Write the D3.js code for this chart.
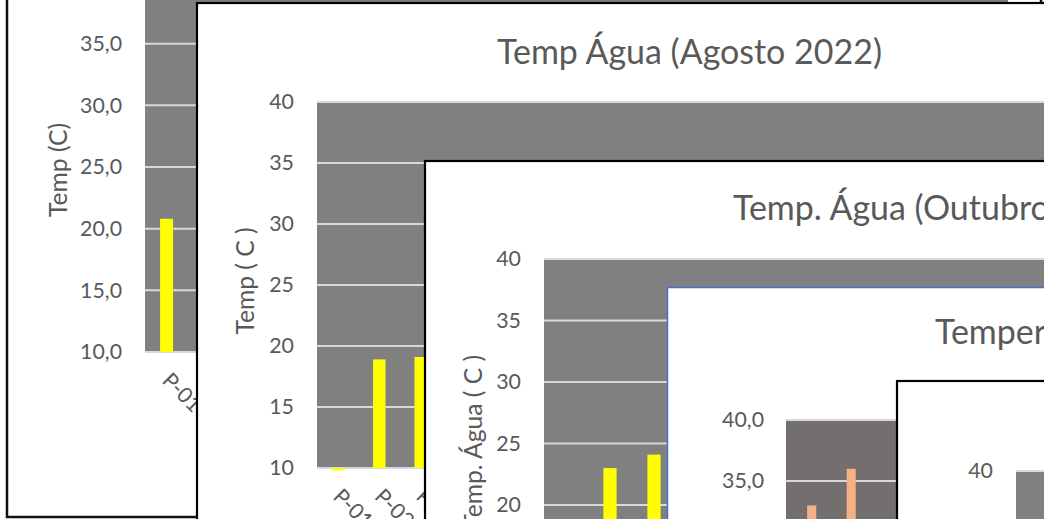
<!DOCTYPE html>
<html>
<head>
<meta charset="utf-8">
<script src="https://cdn.jsdelivr.net/npm/d3@7"></script>
<style>
  html, body { margin: 0; padding: 0; background: #fff; }
  svg { display: block; }
  text { font-family: Lato, "Open Sans", sans-serif; fill: #595959; }
</style>
</head>
<body>
<svg id="chart" width="1044" height="519"></svg>
<script>
// ---- Data -----------------------------------------------------------------
const stations = d3.range(1, 21).map(i => "P-" + String(i).padStart(2, "0"));

// Temperatura da água por campanha (°C)
const campanhaAStations = ["P-01"];
const campanhaATemp = [20.8];

const agostoStations = ["P-01", "P-02", "P-03"];
const agostoTemp = [9.8, 18.9, 19.1];

const outubroStations = ["P-02", "P-03"];
const outubroTemp = [23.0, 24.1];

const campanhaDStations = ["P-01", "P-02"];
const campanhaDTemp = [33.0, 36.0];

const campanhaEStations = [];
const campanhaETemp = [];

const tickValues = [10, 15, 20, 25, 30, 35, 40];

// ---- Formatting ------------------------------------------------------------
const ptBR = d3.formatLocale({ decimal: ",", thousands: ".", grouping: [3], currency: ["R$", ""] });
const fmt1 = ptBR.format(".1f");
const fmt0 = ptBR.format("d");

const svg = d3.select("#chart");

// Size factors so the sans-serif face covers the same width as the office font
function measure(str, px) {
  const t = svg.append("text").style("font-size", px + "px").text(str);
  const w = t.node().getComputedTextLength();
  t.remove();
  return w;
}
const kText = 385 / measure("Temp Água (Agosto 2022)", 37);
const kAxis = 94 / measure("Temp (C)", 26.7);
const kNum = 42 / measure("35,0", 24);
const fs = px => (px * kText) + "px";
const fsAxis = px => (px * kAxis) + "px";
const fsNum = px => (px * kNum) + "px";

// ---- Panels (drawn back to front) -----------------------------------------
const panels = [
  {
    frame: { x: 7, y: -100, w: 1034, h: 617, stroke: "#111", sw: 2.5 },
    plot: { x0: 145, x1: 1008, yTop: -18, yBottom: 352, fill: "#808080" },
    outer: 0, barFrac: 0.3, color: "#FFFF00",
    names: campanhaAStations, values: campanhaATemp,
    tickFmt: fmt1, tickX: 122,
    yTitle: "Temp (C)", yTitleX: 57, yTitleY: 170,
    title: null
  },
  {
    frame: { x: 197, y: 3, w: 1000, h: 700, stroke: "#000", sw: 2.2 },
    plot: { x0: 317, x1: 1147, yTop: 102, yBottom: 468, fill: "#808080" },
    outer: 0, barFrac: 0.3, color: "#FFFF00",
    names: agostoStations, values: agostoTemp,
    tickFmt: fmt0, tickX: 294,
    yTitle: "Temp ( C )", yTitleX: 244, yTitleY: 281,
    title: "Temp Água (Agosto 2022)", titleX: 689.5, titleY: 50, titleAnchor: "middle"
  },
  {
    frame: { x: 425, y: 161, w: 1000, h: 700, stroke: "#000", sw: 2.2 },
    plot: { x0: 544, x1: 1424, yTop: 259, yBottom: 628, fill: "#808080" },
    outer: 0, barFrac: 0.3, color: "#FFFF00",
    names: outubroStations, values: outubroTemp,
    tickFmt: fmt0, tickX: 521,
    yTitle: "Temp. Água ( C )", yTitleX: 472, yTitleY: 355, yTitleAnchor: "end",
    title: "Temp. Água (Outubro 2022)", titleX: 733, titleY: 206, titleAnchor: "start"
  },
  {
    frame: { x: 667.5, y: 287.5, w: 1000, h: 700, stroke: "#4472C4", sw: 1.5 },
    plot: { x0: 786, x1: 1588, yTop: 420, yBottom: 786, fill: "#736F6E" },
    outer: 0.15, barFrac: 0.23, color: "#F4B183",
    names: campanhaDStations, values: campanhaDTemp,
    tickFmt: fmt1, tickX: 764,
    yTitle: null,
    title: "Temperatura da Água", titleX: 935, titleY: 330, titleAnchor: "start"
  },
  {
    frame: { x: 897, y: 381, w: 1000, h: 700, stroke: "#000", sw: 2.2 },
    plot: { x0: 1016, x1: 1900, yTop: 471, yBottom: 837, fill: "#808080" },
    outer: 0, barFrac: 0.3, color: "#FFFF00",
    names: campanhaEStations, values: campanhaETemp,
    tickFmt: fmt0, tickX: 993,
    yTitle: null,
    title: null
  }
];

panels.forEach(p => {
  const g = svg.append("g");
  const f = p.frame;

  g.append("rect")
    .attr("x", f.x).attr("y", f.y).attr("width", f.w).attr("height", f.h)
    .attr("fill", "#fff").attr("stroke", f.stroke).attr("stroke-width", f.sw);

  const x = d3.scaleBand().domain(stations)
    .range([p.plot.x0, p.plot.x1]).paddingInner(0).paddingOuter(p.outer);
  const y = d3.scaleLinear().domain([10, 40]).range([p.plot.yBottom, p.plot.yTop]);

  g.append("rect")
    .attr("x", p.plot.x0).attr("y", p.plot.yTop)
    .attr("width", p.plot.x1 - p.plot.x0).attr("height", p.plot.yBottom - p.plot.yTop)
    .attr("fill", p.plot.fill);

  // horizontal gridlines
  g.append("g").selectAll("line").data(tickValues).join("line")
    .attr("x1", p.plot.x0).attr("x2", p.plot.x1)
    .attr("y1", d => y(d)).attr("y2", d => y(d))
    .attr("stroke", "#D9D9D9").attr("stroke-width", 2);

  // bars
  const bw = x.bandwidth() * p.barFrac;
  g.append("g").selectAll("rect").data(p.values).join("rect")
    .attr("x", (d, i) => x(p.names[i]) + (x.bandwidth() - bw) / 2)
    .attr("y", d => Math.min(y(d), y(10)))
    .attr("width", bw)
    .attr("height", d => Math.abs(y(10) - y(d)))
    .attr("fill", p.color);

  // value axis labels
  const axis = d3.axisLeft(y).tickValues(tickValues).tickFormat(p.tickFmt).tickSize(0).tickPadding(0);
  const ag = g.append("g").attr("transform", `translate(${p.tickX},0)`).call(axis);
  ag.select(".domain").remove();
  ag.attr("font-family", null).attr("font-size", null);
  ag.selectAll("text")
    .style("font-size", fsNum(24)).style("fill", "#595959");

  // category labels, rotated 45°
  g.append("g").selectAll("text").data(stations).join("text")
    .attr("transform", d => `translate(${x(d) + x.bandwidth() / 2},${p.plot.yBottom + 24}) rotate(45)`)
    .attr("text-anchor", "start")
    .attr("dominant-baseline", "central")
    .style("font-size", fsNum(24))
    .text(d => d);

  if (p.yTitle) {
    g.append("text")
      .attr("transform", `translate(${p.yTitleX},${p.yTitleY}) rotate(-90)`)
      .attr("text-anchor", p.yTitleAnchor || "middle")
      .attr("dominant-baseline", "central")
      .style("font-size", fsAxis(26.7))
      .text(p.yTitle);
  }

  if (p.title) {
    g.append("text")
      .attr("x", p.titleX).attr("y", p.titleY)
      .attr("text-anchor", p.titleAnchor)
      .attr("dominant-baseline", "central")
      .style("font-size", fs(37))
      .text(p.title);
  }
});
</script>
</body>
</html>
